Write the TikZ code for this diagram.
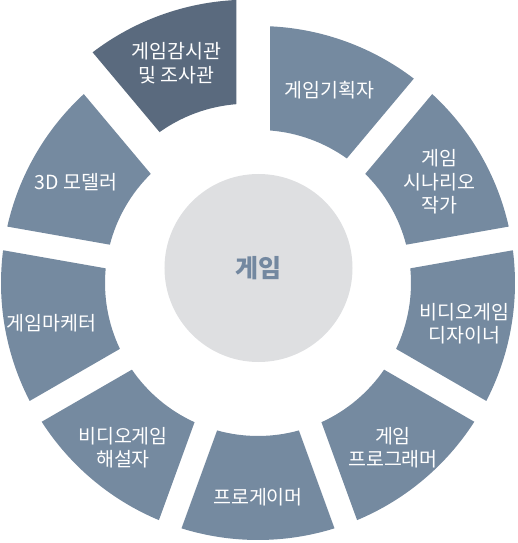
\documentclass[tikz,border=0pt]{standalone}
\usepackage{fontspec}
\setmainfont{Noto Sans CJK KR}
\definecolor{segblue}{HTML}{758AA0}
\definecolor{segdark}{HTML}{5A6A7E}
\definecolor{hubgray}{HTML}{DEDFE1}
\definecolor{hubtext}{HTML}{7388A0}
\begin{document}
\begin{tikzpicture}[x=1pt,y=1pt,
    seg/.style={fill=segblue},
    lbl/.style={text=white,align=center,inner sep=0pt,yshift=-4pt,
      font=\fontsize{19.5}{23.5}\selectfont},
    hub/.style={circle,fill=hubgray,minimum size=188pt,inner sep=0pt,
      text=hubtext,font=\fontsize{25}{28}\selectfont\bfseries}]
  \useasboundingbox (-258,-260) rectangle (259,283);
  \foreach \m in {70,30,-10,-50,-90,-130,-170,150}
    \fill[seg] (\m-17.32:257) arc[start angle=\m-17.32,end angle=\m+17.32,radius=257]
      -- (\m+15.5:153) arc[start angle=\m+15.5,end angle=\m-15.5,radius=153] -- cycle;
  \begin{scope}[shift={(110:28)}]
    \fill[segdark] (92.68:257) arc[start angle=92.68,end angle=127.32,radius=257]
      -- (125.5:153) arc[start angle=125.5,end angle=94.5,radius=153] -- cycle;
    \node[lbl] (audit) at (110:210) {게임감시관\\및 조사관};
  \end{scope}
  \foreach \m/\nm/\txt in {70/plan/게임기획자, 30/story/{게임\\시나리오\\작가},
      -10/design/{비디오게임\\디자이너}, -50/coder/{게임\\프로그래머},
      -90/pro/프로게이머, -130/caster/{비디오게임\\해설자},
      -170/market/게임마케터, 150/model/3D 모델러}
    \node[lbl] (\nm) at (\m:210) {\txt};
  \node[hub] (game) at (0.5,15) {게임};
\end{tikzpicture}
\end{document}
